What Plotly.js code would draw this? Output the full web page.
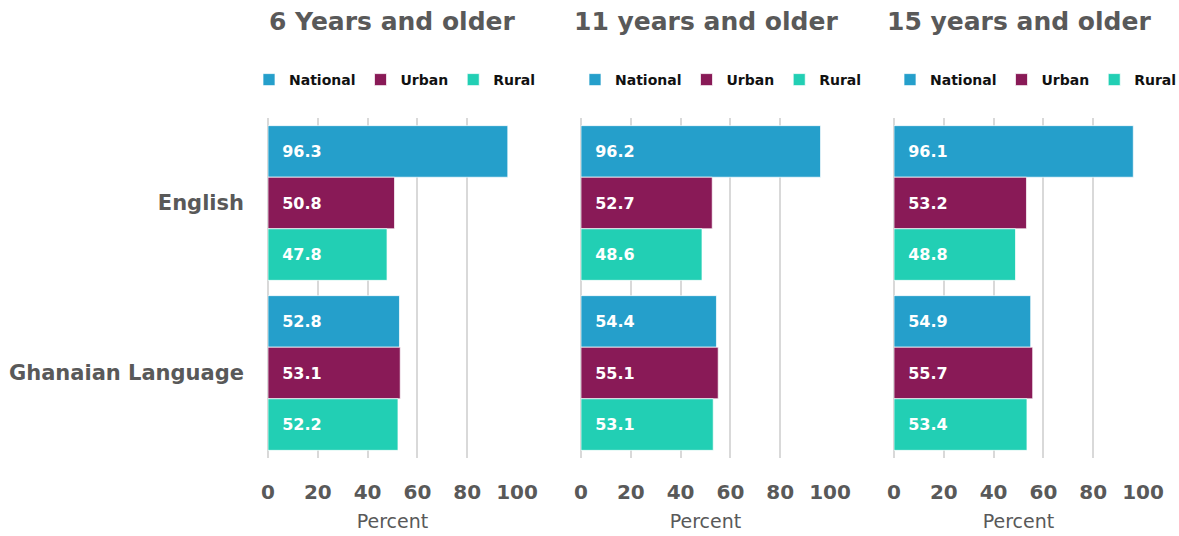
<!DOCTYPE html>
<html>
<head>
<meta charset="utf-8">
<script src="https://cdn.plot.ly/plotly-3.0.1.min.js"></script>
<style>
  body { margin: 0; background: #fff; }
  #chart { width: 1179px; height: 536px; }
</style>
</head>
<body>
<div id="chart"></div>
<script>
// data
var languages = ["English", "Ghanaian Language"];
var panelTitles = ["6 Years and older", "11 years and older", "15 years and older"];
var seriesNames = ["National", "Urban", "Rural"];
var seriesColors = ["#259fcb", "#891a57", "#22cfb4"];

// values per panel, [English, Ghanaian Language]
var national6 = [96.3, 52.8];
var urban6 = [50.8, 53.1];
var rural6 = [47.8, 52.2];

var national11 = [96.2, 54.4];
var urban11 = [52.7, 55.1];
var rural11 = [48.6, 53.1];

var national15 = [96.1, 54.9];
var urban15 = [53.2, 55.7];
var rural15 = [48.8, 53.4];

var xTicks = [0, 20, 40, 60, 80, 100];

var panels = [
  [national6, urban6, rural6],
  [national11, urban11, rural11],
  [national15, urban15, rural15]
];

var W = 1179, H = 536;
var FONT = "'DejaVu Sans', sans-serif";
var GREY = "#595959";

// pixel boxes of the three plots
var xPix = [[268, 517], [581, 830], [894, 1143]];
var legendCenters = [395, 721, 1036];
var yDom = [(H - 458) / H, (H - 118) / H];

var data = [];
panels.forEach(function(panel, p) {
  var suffix = p === 0 ? "" : String(p + 1);
  panel.forEach(function(vals, s) {
    data.push({
      type: "bar",
      orientation: "h",
      name: seriesNames[s],
      x: vals,
      y: languages,
      xaxis: "x" + suffix,
      yaxis: "y" + suffix,
      legend: "legend" + suffix,
      marker: { color: seriesColors[s], line: { color: "rgba(255,255,255,0.7)", width: 1 } },
      text: vals.map(function(v) { return v.toFixed(1); }),
      texttemplate: "\u00a0\u00a0%{text}",
      textposition: "inside",
      insidetextanchor: "start",
      textangle: 0,
      textfont: { family: FONT, size: 16, color: "#ffffff", weight: "bold" },
      hoverinfo: "x+name"
    });
  });
});

var layout = {
  width: W,
  height: H,
  margin: { l: 0, r: 0, t: 0, b: 0, autoexpand: false },
  paper_bgcolor: "#ffffff",
  plot_bgcolor: "#ffffff",
  barmode: "group",
  bargap: 0.09,
  bargroupgap: 0,
  font: { family: FONT, color: GREY },
  annotations: []
};

panels.forEach(function(panel, p) {
  var suffix = p === 0 ? "" : String(p + 1);
  var d = [xPix[p][0] / W, xPix[p][1] / W];
  layout["xaxis" + suffix] = {
    domain: d,
    anchor: "y" + suffix,
    range: [0, 100],
    tickvals: xTicks,
    showgrid: true,
    gridcolor: "#d9d9d9",
    gridwidth: 1.5,
    zeroline: true,
    zerolinecolor: "#d9d9d9",
    zerolinewidth: 1.5,
    showline: false,
    ticks: "",
    ticklabelstandoff: 20,
    tickfont: { family: FONT, size: 20, color: GREY, weight: "bold" },
    title: { text: "Percent", font: { family: FONT, size: 19, color: GREY }, standoff: 11 },
    fixedrange: true
  };
  layout["yaxis" + suffix] = {
    domain: yDom,
    anchor: "x" + suffix,
    autorange: "reversed",
    showticklabels: p === 0,
    ticks: "",
    ticklabelstandoff: 23,
    tickfont: { family: FONT, size: 21, color: GREY, weight: "bold" },
    showgrid: false,
    showline: false,
    zeroline: false,
    fixedrange: true
  };
  layout["legend" + suffix] = {
    orientation: "h",
    x: legendCenters[p] / W,
    xanchor: "center",
    y: 1 - 80 / H,
    yanchor: "middle",
    traceorder: "normal",
    itemwidth: 30,
    itemclick: false,
    font: { family: FONT, size: 14, color: "#111111", weight: "bold" },
    bgcolor: "rgba(0,0,0,0)"
  };
  layout.annotations.push({
    text: panelTitles[p],
    xref: "paper",
    yref: "paper",
    x: (d[0] + d[1]) / 2,
    y: 1 - 22 / H,
    xanchor: "center",
    yanchor: "middle",
    showarrow: false,
    font: { family: FONT, size: 25, color: GREY, weight: "bold" }
  });
});

Plotly.newPlot("chart", data, layout, { displayModeBar: false });
</script>
</body>
</html>
